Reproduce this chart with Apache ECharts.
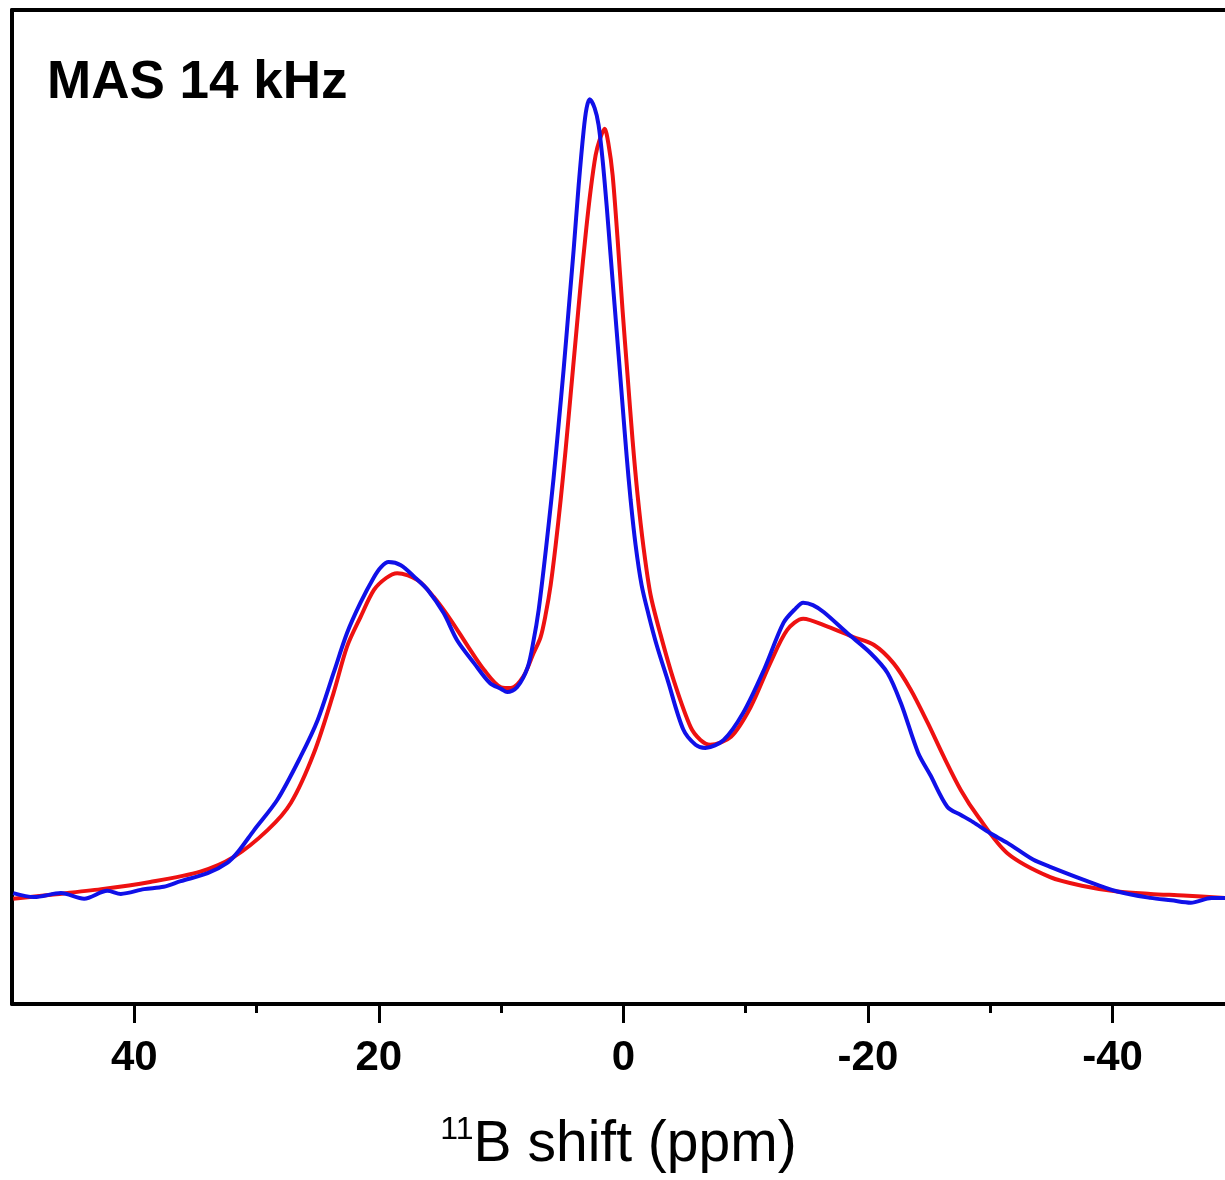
<!DOCTYPE html>
<html>
<head>
<meta charset="utf-8">
<script src="https://cdn.jsdelivr.net/npm/echarts@6/dist/echarts.min.js"></script>
<style>
html,body{margin:0;padding:0;background:#fff;}
#chart{width:1225px;height:1180px;}
</style>
</head>
<body>
<div id="chart"></div>
<script>
// Chemical shift (ppm) and intensity (a.u., blue maximum = 100)
const ppmBlue = [49.9,48.2,46.0,44.1,42.2,41.1,39.2,37.6,36.2,34.0,32.4,31.5,30.2,28.3,26.4,25.0,23.7,22.6,21.5,20.4,19.8,19.2,18.2,17.0,16.0,14.7,13.6,12.2,10.9,10.0,9.5,8.7,7.83,7.34,6.93,6.53,6.12,5.71,5.30,4.89,4.48,4.07,3.66,3.25,3.01,2.76,2.35,2.03,1.70,1.37,1.05,0.72,0.39,0.07,-0.26,-0.59,-1.00,-1.49,-2.06,-2.72,-3.62,-4.9,-5.9,-6.7,-8.2,-9.8,-11.5,-13.1,-14.1,-14.7,-15.5,-16.4,-18.3,-20.2,-21.6,-22.7,-24.1,-25.1,-26.5,-27.6,-28.6,-30.0,-31.4,-33.5,-34.9,-37.6,-40.4,-43.1,-44.8,-46.4,-48.1,-49.2];
const intBlue = [0.6,0.1,0.6,-0.1,0.9,0.5,1.1,1.4,2.1,3.1,4.4,5.8,8.5,12.3,17.7,22.3,28.2,33.2,37.0,40.2,41.5,42.1,41.7,40.1,38.6,35.7,32.3,29.4,26.9,26.2,25.8,26.4,28.9,32.3,36.1,41.1,46.7,52.6,59.3,66.2,73.7,81.2,89.3,96.2,99.0,100.1,99.0,96.9,92.5,86.8,80.6,74.3,68.0,61.8,55.5,49.9,44.2,39.2,35.5,31.7,27.3,21.1,19.2,18.8,19.8,23.2,28.6,34.5,36.3,37.0,36.7,35.8,33.2,30.7,28.2,24.4,18.2,15.4,11.4,10.4,9.5,8.1,6.9,4.8,3.9,2.3,0.8,0.0,-0.3,-0.6,0.0,0.0];

const ppmRed = [49.9,46.8,42.7,38.7,34.6,31.9,29.1,27.2,25.3,23.7,22.6,21.5,20.4,19.4,18.5,16.8,15.5,14.1,12.7,11.4,10.0,9.2,8.2,7.34,6.77,6.36,5.95,5.54,5.13,4.73,4.32,3.91,3.50,3.09,2.68,2.27,1.95,1.54,1.21,0.88,0.47,0.07,-0.34,-0.75,-1.16,-1.65,-2.22,-3.04,-4.11,-5.5,-6.3,-7.1,-8.8,-10.4,-12.0,-13.4,-14.7,-16.7,-18.8,-20.5,-22.1,-23.5,-24.9,-26.2,-27.6,-29.0,-31.4,-34.9,-37.6,-40.4,-43.1,-45.8,-49.2];
const intRed = [-0.1,0.4,1.1,2.0,3.3,5.1,8.5,11.9,18.2,25.7,31.5,35.2,38.6,40.1,40.7,39.8,37.7,34.8,31.5,28.6,26.4,26.3,27.7,30.7,32.7,35.5,39.2,44.2,49.9,56.1,63.0,69.9,76.8,83.1,88.7,93.1,95.0,96.4,94.4,90.6,82.5,73.7,65.5,57.4,50.5,43.9,38.0,33.0,27.3,21.4,19.8,19.2,20.2,23.9,29.4,33.6,35.0,34.0,32.7,31.7,29.4,26.1,21.9,17.7,13.5,10.2,5.6,2.6,1.5,0.8,0.5,0.3,0.0];

const majorTicks = [40, 20, 0, -20, -40];
const minorTicks = [30, 10, -10, -30];

const zip = (xs, ys) => xs.map((x, i) => [x, ys[i]]);

const FONT = '"Liberation Sans", Arial, sans-serif';
const chart = echarts.init(document.getElementById('chart'), null, {renderer: 'canvas'});

const X_MIN = -49.2, X_MAX = 50;

chart.setOption({
  animation: false,
  backgroundColor: '#fff',
  grid: {left: 12, right: 0, top: 10, bottom: 176, show: false},
  xAxis: [{
    type: 'value', min: X_MIN, max: X_MAX, inverse: true, position: 'bottom',
    axisLine: {show: true, onZero: false, lineStyle: {color: '#000', width: 4}},
    axisTick: {show: true, customValues: majorTicks, length: 19, lineStyle: {color: '#000', width: 3}},
    axisLabel: {customValues: majorTicks, fontSize: 42, fontWeight: 'bold', color: '#000', margin: 33, fontFamily: FONT},
    splitLine: {show: false},
    name: '{sup|11}{n|B shift (ppm)}',
    nameLocation: 'middle',
    nameGap: 110,
    nameTextStyle: {
      fontFamily: FONT,
      rich: {
        sup: {fontSize: 32, fontFamily: FONT, color: '#000', verticalAlign: 'top', lineHeight: 32},
        n: {fontSize: 57, fontFamily: FONT, color: '#000', lineHeight: 62}
      }
    }
  }, {
    type: 'value', min: X_MIN, max: X_MAX, inverse: true, position: 'bottom', gridIndex: 0,
    axisLine: {show: false, onZero: false},
    axisTick: {show: true, customValues: minorTicks, length: 9, lineStyle: {color: '#000', width: 3}},
    axisLabel: {show: false},
    splitLine: {show: false}
  }, {
    type: 'value', min: X_MIN, max: X_MAX, inverse: true, position: 'top', gridIndex: 0,
    axisLine: {show: true, onZero: false, lineStyle: {color: '#000', width: 4}},
    axisTick: {show: false}, axisLabel: {show: false}, splitLine: {show: false}
  }],
  yAxis: {
    type: 'value', min: -13.3, max: 111.3, position: 'left',
    axisLine: {show: true, onZero: false, lineStyle: {color: '#000', width: 4}},
    axisTick: {show: false}, axisLabel: {show: false}, splitLine: {show: false}
  },
  graphic: [{
    type: 'text', left: 47, top: 57,
    style: {text: 'MAS 14 kHz', fontSize: 53, fontWeight: 'bold', fontFamily: FONT, fill: '#000'}
  }],
  series: [{
    name: 'red', type: 'line', xAxisIndex: 0, data: zip(ppmRed, intRed),
    showSymbol: false, symbol: 'none', smooth: 0.3,
    lineStyle: {color: '#ee1111', width: 4}
  }, {
    name: 'blue', type: 'line', xAxisIndex: 0, data: zip(ppmBlue, intBlue),
    showSymbol: false, symbol: 'none', smooth: 0.3,
    lineStyle: {color: '#1010e8', width: 4}
  }]
});
</script>
</body>
</html>
